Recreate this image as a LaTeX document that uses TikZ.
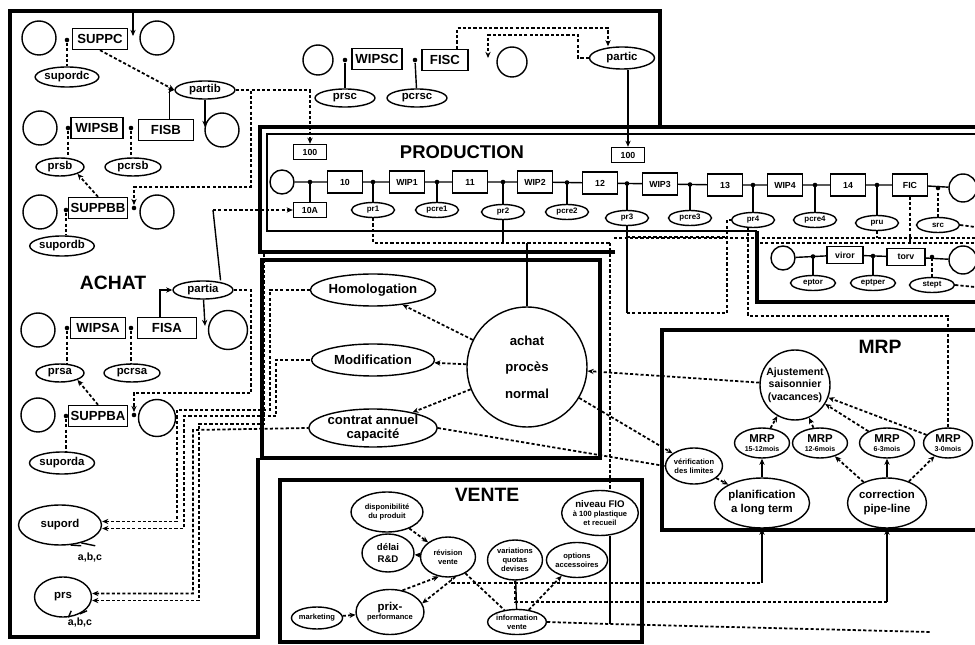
\documentclass[tikz,border=0pt]{standalone}
\usepackage{fontspec}
\setmainfont{Liberation Sans}
\usetikzlibrary{arrows.meta, positioning, shapes.geometric, calc}

\begin{document}
\begin{tikzpicture}[
  x=0.02cm, y=-0.02cm,
  font=\bfseries\fontsize{7}{8}\selectfont,
  line width=0.8pt,
  box/.style={rectangle, draw, inner sep=1pt, minimum width=1.1cm,
              minimum height=0.42cm, font=\bfseries\fontsize{7.5}{8}\selectfont},
  pbox/.style={rectangle, draw, inner sep=1pt, minimum width=0.7cm,
               minimum height=0.44cm, font=\bfseries\fontsize{5}{6}\selectfont},
  sbox/.style={pbox, minimum width=0.66cm, minimum height=0.3cm},
  ell/.style={ellipse, draw, inner sep=0pt, minimum width=1.2cm,
              minimum height=0.36cm, font=\bfseries\fontsize{6.5}{7}\selectfont},
  pell/.style={ellipse, draw, inner sep=0pt, minimum width=0.86cm,
               minimum height=0.3cm, font=\bfseries\fontsize{4.5}{5}\selectfont},
  bigell/.style={ellipse, draw, inner sep=0pt, align=center,
                 font=\bfseries\fontsize{7.5}{8.5}\selectfont},
  tinyell/.style={ellipse, draw, inner sep=0pt, align=center,
                  font=\bfseries\fontsize{4.3}{5}\selectfont},
  circ/.style={circle, draw, minimum size=0.68cm, inner sep=0pt},
  jn/.style={circle, fill, inner sep=0pt, minimum size=2.6pt},
  sectitle/.style={font=\bfseries\fontsize{11}{12}\selectfont},
  thickframe/.style={line width=1.8pt},
  arr/.style={-{Stealth[length=3.5pt,width=3pt]}},
  dsh/.style={line width=1pt, dash pattern=on 1.8pt off 1.2pt},
  darr/.style={dsh, -{Stealth[length=3.5pt,width=3pt]}},
  rdarr/.style={dsh, {Stealth[length=3.5pt,width=3pt]}-},
]
\useasboundingbox (0,0) rectangle (975,645);
\clip (0,0) rectangle (975,645);
\fill[white] (0,0) rectangle (975,645);

% frames
\draw[thickframe] (258,458) -- (258,637) -- (10,637) -- (10,11) -- (660,11) -- (660,129);
\draw[thickframe] (615,252) -- (260,252) -- (260,127) -- (985,127);
\draw[line width=1pt] (757,231) -- (267,231) -- (267,134) -- (985,134);
\draw[thickframe] (757,231) -- (757,302) -- (985,302);
\draw[thickframe] (262,260) rectangle (600,458);
\draw[thickframe] (985,330) -- (662,330) -- (662,530) -- (985,530);
\draw[thickframe] (280,480) rectangle (642,642);

% ACHAT
\node[sectitle] (achat) at (113,283) {ACHAT};
\node[circ] (cC1) at (39,38) {};
\node[box] (suppc) at (100,39) {SUPPC};
\node[circ] (cC2) at (157,38) {};
\node[ell, minimum width=1.26cm, minimum height=0.4cm] (supordc) at (67,77) {supordc};
\node[ell] (partib) at (205,90) {partib};
\node[circ] (cB1) at (40,128) {};
\node[box, minimum width=1.04cm] (wipsb) at (97,128) {WIPSB};
\node[box] (fisb) at (166,130) {FISB};
\node[circ] (cB2) at (222,130) {};
\node[ell, minimum width=0.96cm] (prsb) at (60,167) {prsb};
\node[ell, minimum width=1.12cm] (pcrsb) at (133,167) {pcrsb};
\node[circ] (cBB1) at (40,212) {};
\node[box] (suppbb) at (98,208) {SUPPBB};
\node[circ] (cBB2) at (157,212) {};
\node[ell, minimum width=1.26cm, minimum height=0.4cm] (supordb) at (62,246) {supordb};
\node[ell] (partia) at (203,290) {partia};
\node[circ] (cA1) at (38,330) {};
\node[box, minimum width=1.1cm] (wipsa) at (98,328) {WIPSA};
\node[box, minimum width=1.18cm] (fisa) at (167,328) {FISA};
\node[circ, minimum size=0.78cm] (cA2) at (228,330) {};
\node[ell, minimum width=0.96cm] (prsa) at (60,373) {prsa};
\node[ell, minimum width=1.12cm] (pcrsa) at (132,373) {pcrsa};
\node[circ] (cBA1) at (38,415) {};
\node[box] (suppba) at (98,416) {SUPPBA};
\node[circ, minimum size=0.74cm] (cBA2) at (157,418) {};
\node[ell, minimum width=1.3cm, minimum height=0.44cm] (suporda) at (62,463) {suporda};
\node[ell, minimum width=1.66cm, minimum height=0.8cm] (supord) at (60,525) {supord};
\node[font=\bfseries\fontsize{6}{7}\selectfont] (abc1) at (90,557) {a,b,c};
\node[ell, minimum width=1.14cm, minimum height=0.8cm] (prs) at (63,597) {prs};
\node[font=\bfseries\fontsize{6}{7}\selectfont] (abc2) at (80,622) {a,b,c};
\draw ([xshift=-5pt]abc1.north) -- (supord.-62);
\draw ([xshift=3pt]abc1.north) -- (supord.-40);
\draw ([xshift=-5pt]abc2.north) -- (prs.-75);
\draw ([xshift=4pt]abc2.north) -- (prs.-45);

\node[jn] (jc1) at (67,40) {};
\draw[dsh] (jc1) -- (supordc);
\coordinate (topC) at (133,11);
\coordinate (gC) at (133,36);
\draw[arr] (topC) -- (gC);
\draw[darr] (suppc.south) -- (partib.west);

\node[jn] (jb1) at (68,128) {};
\node[jn] (jb2) at (131,128) {};
\draw[dsh] (jb1) -- (jb1 |- prsb.north);
\draw[dsh] (jb2) -- (jb2 |- pcrsb.north);
\draw[arr] ([xshift=2]fisb.north) |- (partib.west);
\coordinate (gB) at (205,127);
\draw[arr] (partib) -- (gB);
\node[jn] (jbb2) at (134,208) {};
\draw[darr] (partib.east) -| (251,187) -| (jbb2);
\draw[darr] (suppbb.north) -- (prsb.south east);
\node[jn] (jbb1) at (66,210) {};
\draw[dsh] (jbb1) -- (jbb1 |- supordb.north);

\node[jn] (ja1) at (67,328) {};
\node[jn] (ja2) at (131,328) {};
\draw[dsh] (ja1) -- (ja1 |- prsa.north);
\draw[dsh] (ja2) -- (ja2 |- pcrsa.north);
\draw[arr] ([xshift=-4]fisa.north) |- (partia.west);
\coordinate (gA) at (205,326);
\draw[arr] (partia) -- (gA);
\node[jn] (jba2) at (134,415) {};
\draw[darr] (partia.east) -| (251,393) -| (jba2);
\draw[darr] (suppba.north) -- (prsa.south east);
\node[jn] (jba1) at (66,416) {};
\draw[dsh] (jba1) -- (jba1 |- suporda.north);

% top middle
\node[circ, minimum size=0.6cm] (cT1) at (318,60) {};
\node[box, minimum width=1.0cm] (wipsc) at (377,59) {WIPSC};
\node[box, minimum width=0.92cm] (fisc) at (445,60) {FISC};
\node[circ, minimum size=0.6cm] (cT2) at (512,62) {};
\node[ell] (prsc) at (345,98) {prsc};
\node[ell] (pcrsc) at (417,98) {pcrsc};
\node[ell, minimum width=1.3cm, minimum height=0.44cm] (partic) at (622,58) {partic};
\node[jn] (jt1) at (345,60) {};
\node[jn] (jt2) at (415,60) {};
\draw (jt1) -- (prsc);
\draw (jt2) -- (pcrsc);
\coordinate (kT1) at (608,28);
\draw[darr] ([xshift=7]fisc.north) |- (kT1) -- (kT1 |- partic.north);
\coordinate (kT2) at (578,35);
\coordinate (gT) at (488,58);
\draw[darr] (partic.west) -| (kT2) -| (gT);

% PRODUCTION
\node[sectitle, font=\bfseries\fontsize{10.5}{12}\selectfont] (prodtitle) at (462,152) {PRODUCTION};
\node[circ, minimum size=0.48cm] (c0) at (282,182) {};
\node[pbox] (b10) at (345,182) {10};
\node[pbox] (wip1) at (407,182) {WIP1};
\node[pbox] (b11) at (470,182) {11};
\node[pbox] (wip2) at (535,182) {WIP2};
\node[pbox] (b12) at (600,183) {12};
\node[pbox] (wip3) at (660,184) {WIP3};
\node[pbox] (b13) at (725,185) {13};
\node[pbox] (wip4) at (785,185) {WIP4};
\node[pbox] (b14) at (848,185) {14};
\node[pbox] (fic) at (910,185) {FIC};
\node[circ, minimum size=0.56cm] (cP) at (963,188) {};
\node[sbox] (p100a) at (310,152) {100};
\node[sbox] (p10a) at (310,210) {10A};
\node[sbox] (p100b) at (628,155) {100};
\node[pell] (pr1) at (373,210) {pr1};
\node[pell] (pcre1) at (437,210) {pcre1};
\node[pell] (pr2) at (503,212) {pr2};
\node[pell] (pcre2) at (567,212) {pcre2};
\node[pell] (pr3) at (627,218) {pr3};
\node[pell] (pcre3) at (690,218) {pcre3};
\node[pell] (pr4) at (753,220) {pr4};
\node[pell] (pcre4) at (815,220) {pcre4};
\node[pell] (pru) at (877,223) {pru};
\node[pell] (src) at (938,225) {src};
\draw (c0) -- (b10) -- (wip1) -- (b11) -- (wip2) -- (b12) -- (wip3)
      -- (b13) -- (wip4) -- (b14) -- (fic) -- (cP);
\foreach \a/\b/\e in {c0/b10/p10a, b10/wip1/pr1, wip1/b11/pcre1, b11/wip2/pr2,
    wip2/b12/pcre2, b12/wip3/pr3, wip3/b13/pcre3, b13/wip4/pr4,
    wip4/b14/pcre4, b14/fic/pru}{
  \coordinate (m) at ($(\a.east)!0.5!(\b.west)$);
  \draw (\e.north) -- (\e.north |- m) node[jn]{};
}
\draw[dsh] (src.north) -- (src.north |- cP) node[jn]{};
\draw[darr] (partib.east) -| (p100a.north);
\draw[arr] (partic.south -| p100b) -- (p100b.north);
\coordinate (kA) at (213,210);
\draw ([xshift=10]partia.north) -- (kA);
\draw[darr] (kA) -- (p10a.west);

% sub-area
\node[circ, minimum size=0.48cm] (cS1) at (783,258) {};
\node[pbox, minimum width=0.72cm, minimum height=0.34cm] (viror) at (845,255) {viror};
\node[pbox, minimum width=0.76cm, minimum height=0.34cm] (torv) at (906,257) {torv};
\node[circ, minimum size=0.56cm] (cS2) at (963,260) {};
\node[pell, minimum width=0.9cm] (eptor) at (813,283) {eptor};
\node[pell, minimum width=0.9cm] (eptper) at (873,283) {eptper};
\node[pell, minimum width=0.9cm] (stept) at (932,285) {stept};
\draw (cS1) -- (viror) -- (torv) -- (cS2);
\foreach \a/\b/\e in {cS1/viror/eptor, viror/torv/eptper}{
  \coordinate (m) at ($(\a.east)!0.5!(\b.west)$);
  \draw (\e.north) -- (\e.north |- m) node[jn]{};
}
\draw[dsh] (stept.north) -- (stept.north |- torv) node[jn]{};
\coordinate (kS) at (975,287);
\coordinate (kSr) at (975,227);
\draw[dsh] (stept.east) -- (kS);
\draw[dsh] (src.east) -- (kSr);

% buses
\coordinate (busL) at (373,243);
\coordinate (busN) at (610,243);
\coordinate (r1) at (614,238);
\coordinate (r2) at (975,238);
\coordinate (r3) at (760,243);
\coordinate (r4) at (975,243);
\coordinate (q2) at (727,313);
\coordinate (q0) at (727,237);
\coordinate (q4) at (948,316);
\draw[dsh] (r1) -- (r2);
\draw[dsh] (r3) -- (r4);
\draw[dsh] (pru.south) -- (pru.south |- r1);
\draw[dsh] (fic.south) -- (fic.south |- r3);
\draw (pr3.south) -- (pr3.south |- q2);
\draw[dsh] (pr3.south |- q2) -- (q2);
\draw[dsh] (pr3.south |- q0) -- (q0);
\draw[dsh] (q2) |- (pr4.west);

% ACHAT proces box
\node[bigell, minimum width=2.46cm, minimum height=0.64cm] (homol) at (373,290) {Homologation};
\node[bigell, minimum width=2.46cm, minimum height=0.64cm] (modif) at (373,360) {Modification};
\node[bigell, minimum width=2.5cm, minimum height=0.76cm,
      font=\bfseries\fontsize{7.5}{8}\selectfont] (contrat) at (373,428) {contrat annuel\\capacité};
\node[circle, draw, minimum size=2.4cm, inner sep=0pt, align=center,
      font=\bfseries\fontsize{7.5}{15}\selectfont] (achatpn) at (527,367) {achat\\procès\\normal};
\draw[darr] (achatpn) -- (homol);
\draw[darr] (achatpn) -- (modif);
\draw[darr] (achatpn) -- (contrat);
\draw (achatpn.north) -- (achatpn.north |- busL);
\draw[dsh] (pr1.south) -- (busL) -- (busN);
\draw (pr2.south) -- (pr2.south |- busL);

% bundles from the left
\coordinate (kP0) at (264,252);
\draw[rdarr] ([yshift=2pt]supord.east) -| (177,410) -| (270,290) -- (homol.west);
\draw[rdarr] ([yshift=-2pt]supord.east) -| (184,416) -| (276,360) -- (modif.west);
\draw[rdarr] ([yshift=2pt]prs.east) -| (193,430) -- (contrat.west);
\draw[rdarr] ([yshift=-2pt]prs.east) -| (199,424) -| (kP0);

% MRP
\node[sectitle] (mrptitle) at (880,347) {MRP};
\node[circle, draw, minimum size=1.4cm, inner sep=0pt, align=center,
      font=\bfseries\fontsize{6}{7}\selectfont] (ajust) at (795,385) {Ajustement\\saisonnier\\(vacances)};
\node[bigell, minimum width=1.1cm, minimum height=0.6cm, font=\bfseries\fontsize{6.5}{5}\selectfont]
  (mrp1) at (762,443) {MRP\\{\fontsize{4}{4}\selectfont 15-12mois}};
\node[bigell, minimum width=1.1cm, minimum height=0.6cm, font=\bfseries\fontsize{6.5}{5}\selectfont]
  (mrp2) at (820,443) {MRP\\{\fontsize{4}{4}\selectfont 12-6mois}};
\node[bigell, minimum width=1.1cm, minimum height=0.6cm, font=\bfseries\fontsize{6.5}{5}\selectfont]
  (mrp3) at (887,443) {MRP\\{\fontsize{4}{4}\selectfont 6-3mois}};
\node[bigell, minimum width=0.98cm, minimum height=0.6cm, font=\bfseries\fontsize{6.5}{5}\selectfont]
  (mrp4) at (948,443) {MRP\\{\fontsize{4}{4}\selectfont 3-0mois}};
\node[tinyell, minimum width=1.12cm, minimum height=0.72cm] (verif) at (694,466) {vérification\\des limites};
\node[bigell, minimum width=1.66cm, minimum height=1.0cm,
      font=\bfseries\fontsize{6.5}{8}\selectfont] (planif) at (762,503) {planification\\a long term};
\node[bigell, minimum width=1.46cm, minimum height=1.0cm,
      font=\bfseries\fontsize{6.5}{8}\selectfont] (correc) at (887,503) {correction\\pipe-line};
\draw[darr] (mrp1) -- (ajust);
\draw[darr] (mrp2) -- (ajust);
\draw[darr] (mrp3) -- (ajust);
\draw[darr] (mrp4) -- (ajust);
\draw[arr] (planif) -- (mrp1);
\draw[darr] (verif) -- (planif);
\draw[darr] (correc) -- (mrp2);
\draw[arr] (correc) -- (mrp3);
\draw[darr] (correc) -- (mrp4);
\draw[darr] (ajust) -- (achatpn);
\draw[darr] (achatpn) -- (verif);
\draw[dsh] (contrat.east) -- (verif.west);
\draw[dsh] (pr4.-120) |- (q4) -- (mrp4.north);

% VENTE
\node[sectitle] (ventetitle) at (487,495) {VENTE};
\node[tinyell, minimum width=1.44cm, minimum height=0.8cm] (dispo) at (387,512) {disponibilité\\du produit};
\node[tinyell, minimum width=1.04cm, minimum height=0.76cm,
      font=\bfseries\fontsize{5.5}{6.5}\selectfont] (delai) at (388,553) {délai\\R\&D};
\node[tinyell, minimum width=1.1cm, minimum height=0.8cm] (revis) at (448,557) {révision\\vente};
\node[tinyell, minimum width=1.1cm, minimum height=0.8cm] (varia) at (515,560) {variations\\quotas\\devises};
\node[tinyell, minimum width=1.06cm, minimum height=0.7cm] (option) at (577,560) {options\\accessoires};
\node[tinyell, minimum width=1.36cm, minimum height=0.9cm] (prixp) at (390,612)
  {{\fontsize{6.5}{7}\selectfont prix-}\\performance};
\node[tinyell, minimum width=1.0cm, minimum height=0.44cm] (market) at (317,618) {marketing};
\node[tinyell, minimum width=1.1cm, minimum height=0.5cm] (infov) at (517,622) {information\\vente};
\node[tinyell, minimum width=1.26cm, minimum height=0.9cm] (niveau) at (600,513)
  {{\fontsize{5.5}{6}\selectfont niveau FIO}\\à 100 plastique\\et recueil};
\draw[darr] (dispo) -- (revis);
\draw[darr] (revis) -- (delai);
\draw[darr] (prixp.60) -- (revis.-115);
\draw[darr] (revis.-70) -- (prixp.15);
\draw[darr] (market) -- (prixp);
\draw[dsh] (revis) -- (infov);
\draw (varia) -- (infov);
\draw[darr] (infov) -- (option);
\draw[dsh] (busN) -- (busN |- niveau.north);
\coordinate (kN) at (610,624);
\coordinate (kI) at (930,632);
\draw (busN |- niveau.south) -- (kN);
\draw[dsh] (infov.east) -- (kN) -- (kI);
\coordinate (kP) at (762,583);
\draw[arr] (kP) -- (planif);
\draw[dsh] (revis.-80) |- (kP);
\coordinate (kC) at (887,602);
\draw[arr] (kC) -- (correc);
\draw[dsh] (varia.south) |- (kC);
\end{tikzpicture}
\end{document}
